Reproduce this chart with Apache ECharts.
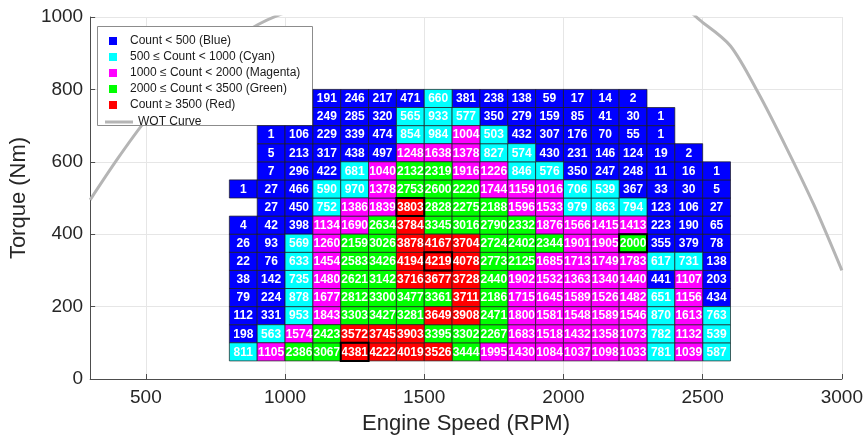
<!DOCTYPE html>
<html>
<head>
<meta charset="utf-8">
<script src="https://cdn.jsdelivr.net/npm/echarts@6/dist/echarts.min.js"></script>
<style>
  html, body { margin: 0; padding: 0; background: #fff; }
  #chart { width: 866px; height: 441px; }
</style>
</head>
<body>
<div id="chart"></div>
<script>
// bins: lower edge of each cell (100 RPM x 50 Nm)
const rpmBins = [800, 900, 1000, 1100, 1200, 1300, 1400, 1500, 1600, 1700, 1800, 1900, 2000, 2100, 2200, 2300, 2400, 2500];
const torqueBins = [50, 100, 150, 200, 250, 300, 350, 400, 450, 500, 550, 600, 650, 700, 750];

// one row per torque bin, bottom to top
const counts = [
  [811, 1105, 2386, 3067, 4381, 4222, 4019, 3526, 3444, 1995, 1430, 1084, 1037, 1098, 1033, 781, 1039, 587],
  [198, 563, 1574, 2423, 3572, 3745, 3903, 3395, 3302, 2267, 1683, 1518, 1432, 1358, 1073, 782, 1132, 539],
  [112, 331, 953, 1843, 3303, 3427, 3281, 3649, 3908, 2471, 1800, 1581, 1548, 1589, 1546, 870, 1613, 763],
  [79, 224, 878, 1677, 2812, 3300, 3477, 3361, 3711, 2186, 1715, 1645, 1589, 1526, 1482, 651, 1156, 434],
  [38, 142, 735, 1480, 2621, 3142, 3716, 3677, 3728, 2440, 1902, 1532, 1363, 1340, 1440, 441, 1107, 203],
  [22, 76, 633, 1454, 2583, 3426, 4194, 4219, 4078, 2773, 2125, 1685, 1713, 1749, 1783, 617, 731, 138],
  [26, 93, 569, 1260, 2159, 3026, 3878, 4167, 3704, 2724, 2402, 2344, 1901, 1905, 2000, 355, 379, 78],
  [4, 42, 398, 1134, 1690, 2634, 3784, 3345, 3016, 2790, 2332, 1876, 1566, 1415, 1413, 223, 190, 65],
  [null, 27, 450, 752, 1386, 1839, 3803, 2828, 2275, 2188, 1596, 1533, 979, 863, 794, 123, 106, 27],
  [1, 27, 466, 590, 970, 1378, 2753, 2600, 2220, 1744, 1159, 1016, 706, 539, 367, 33, 30, 5],
  [null, 7, 296, 422, 681, 1040, 2132, 2319, 1916, 1226, 846, 576, 350, 247, 248, 11, 16, 1],
  [null, 5, 213, 317, 438, 497, 1248, 1638, 1378, 827, 574, 430, 231, 146, 124, 19, 2, null],
  [null, 1, 106, 229, 339, 474, 854, 984, 1004, 503, 432, 307, 176, 70, 55, 1, null, null],
  [null, null, null, 249, 285, 320, 565, 933, 577, 350, 279, 159, 85, 41, 30, 1, null, null],
  [null, null, null, 191, 246, 217, 471, 660, 381, 238, 138, 59, 17, 14, 2, null, null, null]
];

// cells drawn with a heavy black outline
const highlightCells = [[1200, 50], [1500, 300], [2200, 350], [1400, 450]];

// wide open throttle curve
const wotRpm = [300, 400, 500, 600, 700, 800, 900, 1000, 1100, 2400, 2500, 2600, 2700, 2800, 2900, 3000];
const wotTorque = [495, 610, 715, 800, 870, 928, 978, 1012, 1035, 1035, 985, 920, 790, 640, 480, 300];

const countBreaks = [500, 1000, 2000, 3500];
const classNames = [
  'Count < 500 (Blue)',
  '500 \u2264 Count < 1000 (Cyan)',
  '1000 \u2264 Count < 2000 (Magenta)',
  '2000 \u2264 Count < 3500 (Green)',
  'Count \u2265 3500 (Red)'
];
const classColors = ['#0000ff', '#00ffff', '#ff00ff', '#00ff00', '#ff0000'];

const xTicks = [500, 1000, 1500, 2000, 2500, 3000];

const RPM_STEP = 100, NM_STEP = 50;

function classOf(c) {
  let k = 0;
  while (k < countBreaks.length && c >= countBreaks[k]) k++;
  return k;
}

// split the cells by colour class
const classData = classNames.map(() => []);
counts.forEach((row, i) => {
  row.forEach((c, j) => {
    if (c == null) return;
    classData[classOf(c)].push([rpmBins[j], torqueBins[i], c]);
  });
});

function cellRender(params, api) {
  const x = api.value(0), y = api.value(1), c = api.value(2);
  const p0 = api.coord([x, y + NM_STEP]);
  const p1 = api.coord([x + RPM_STEP, y]);
  return {
    type: 'group',
    children: [
      {
        type: 'rect',
        shape: { x: p0[0], y: p0[1], width: p1[0] - p0[0], height: p1[1] - p0[1] },
        style: { fill: api.visual('color'), stroke: '#1b1b1b', lineWidth: 0.7 }
      },
      {
        type: 'text',
        style: {
          text: String(c),
          x: (p0[0] + p1[0]) / 2,
          y: (p0[1] + p1[1]) / 2 + 0.5,
          align: 'center',
          verticalAlign: 'middle',
          fill: '#ffffff',
          font: 'bold 12px "Liberation Sans", Arial, sans-serif'
        }
      }
    ]
  };
}

function highlightRender(params, api) {
  const x = api.value(0), y = api.value(1);
  const p0 = api.coord([x, y + NM_STEP]);
  const p1 = api.coord([x + RPM_STEP, y]);
  return {
    type: 'rect',
    shape: { x: p0[0], y: p0[1], width: p1[0] - p0[0], height: p1[1] - p0[1] },
    style: { fill: 'none', stroke: '#000000', lineWidth: 2 }
  };
}

const font = '"Liberation Sans", Arial, Helvetica, sans-serif';
const axisColor = '#262626';

const series = classNames.map((name, k) => ({
  name: name,
  type: 'custom',
  renderItem: cellRender,
  itemStyle: { color: classColors[k] },
  encode: { x: 0, y: 1 },
  data: classData[k],
  z: 3
}));

series.push({
  name: 'highlight',
  type: 'custom',
  renderItem: highlightRender,
  encode: { x: 0, y: 1 },
  data: highlightCells,
  z: 5
});

series.push({
  name: 'WOT Curve',
  type: 'line',
  data: wotRpm.map((r, i) => [r, wotTorque[i]]),
  showSymbol: false,
  smooth: 0.3,
  clip: true,
  color: '#b5b5b5',
  lineStyle: { width: 3, color: '#b5b5b5' },
  z: 2
});

const option = {
  animation: false,
  backgroundColor: '#ffffff',
  grid: { left: 89, right: 22, top: 17, bottom: 62 },
  xAxis: {
    type: 'value',
    min: 300,
    max: 3000,
    name: 'Engine Speed (RPM)',
    nameLocation: 'middle',
    nameGap: 34,
    nameTextStyle: { fontSize: 22, color: axisColor, fontFamily: font },
    axisLine: { show: true, lineStyle: { color: '#4d4d4d', width: 1 } },
    axisTick: { show: true, inside: true, length: 5, customValues: xTicks, lineStyle: { color: '#4d4d4d' } },
    axisLabel: { customValues: xTicks, fontSize: 19, color: axisColor, fontFamily: font, margin: 9, formatter: v => String(v) },
    splitLine: { show: true, lineStyle: { color: '#e6e6e6', width: 1 } }
  },
  yAxis: {
    type: 'value',
    min: 0,
    max: 1000,
    interval: 200,
    name: 'Torque (Nm)',
    nameLocation: 'middle',
    nameGap: 41,
    nameTextStyle: { fontSize: 22, color: axisColor, fontFamily: font },
    axisLine: { show: true, lineStyle: { color: '#4d4d4d', width: 1 } },
    axisTick: { show: true, inside: true, length: 5, lineStyle: { color: '#4d4d4d' } },
    axisLabel: { fontSize: 19, color: axisColor, fontFamily: font, margin: 7, formatter: v => String(v) },
    splitLine: { show: true, lineStyle: { color: '#e6e6e6', width: 1 } }
  },
  graphic: [{
    type: 'rect',
    left: 97,
    top: 26,
    z: 3,
    shape: { width: 215, height: 99 },
    style: { fill: '#ffffff', stroke: '#8c8c8c', lineWidth: 1 }
  }],
  legend: [{
    data: classNames,
    orient: 'vertical',
    left: 104,
    top: 29,
    itemWidth: 24,
    itemHeight: 8,
    itemGap: 2,
    icon: 'path://M0,0L8,0L8,8L0,8Z',
    selectedMode: false,
    textStyle: { fontSize: 12, lineHeight: 14, color: '#1a1a1a', fontFamily: font }
  }, {
    data: [{ name: 'WOT Curve', icon: 'rect' }],
    orient: 'vertical',
    left: 100,
    top: 110,
    itemWidth: 28,
    itemHeight: 3,
    selectedMode: false,
    textStyle: { fontSize: 12, lineHeight: 14, color: '#1a1a1a', fontFamily: font }
  }],
  series: series
};

const chart = echarts.init(document.getElementById('chart'));
chart.setOption(option);
</script>
</body>
</html>
